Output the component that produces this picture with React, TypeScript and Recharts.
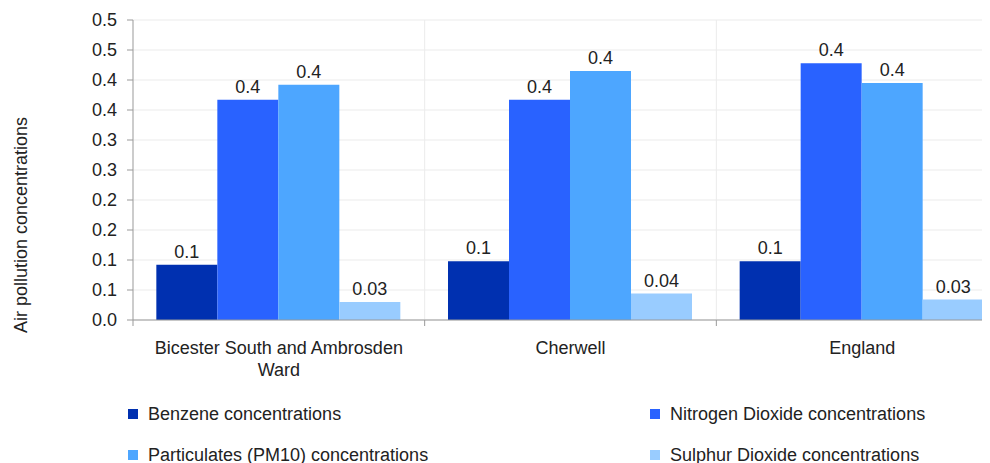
import React from 'react';
import { BarChart, Bar, XAxis, YAxis, CartesianGrid, LabelList, Text } from 'recharts';

const categories = ['Bicester South and Ambrosden Ward', 'Cherwell', 'England'];
const benzene = [0.092, 0.098, 0.098];
const nitrogenDioxide = [0.367, 0.367, 0.428];
const particulates = [0.392, 0.415, 0.395];
const sulphurDioxide = [0.03, 0.044, 0.034];
const yTicks = [0, 0.05, 0.1, 0.15, 0.2, 0.25, 0.3, 0.35, 0.4, 0.45, 0.5];

const seriesKeys = ['benzene', 'no2', 'pm10', 'so2'];
const seriesNames = [
  'Benzene concentrations',
  'Nitrogen Dioxide concentrations',
  'Particulates (PM10) concentrations',
  'Sulphur Dioxide concentrations',
];
const seriesColors = ['#0030b0', '#2962ff', '#4da6ff', '#99ccff'];
const seriesValues = [benzene, nitrogenDioxide, particulates, sulphurDioxide];

const data = categories.map((c, i) => {
  const row: any = { name: c };
  seriesKeys.forEach((k, j) => {
    row[k] = seriesValues[j][i];
  });
  return row;
});

const FONT = '"Liberation Sans", Arial, sans-serif';
const TEXT = '#222';
const AXIS = '#999';

const yFmt = (v: number) => (Math.round(v * 10 + 1e-9) / 10).toFixed(1);
const labelFmt = (v: any) => {
  const n = Number(v);
  return n < 0.05 ? n.toFixed(2) : n.toFixed(1);
};

const XTick = (props: any) => {
  const { x, y, payload, index } = props;
  const half = payload && payload.offset ? payload.offset : 145.8;
  const isLast = (payload?.index ?? index) === categories.length - 1;
  return (
    <g>
      <line x1={x - half} x2={x - half} y1={y} y2={y + 6} stroke={AXIS} />
      {isLast && <line x1={x + half} x2={x + half} y1={y} y2={y + 6} stroke={AXIS} />}
      <Text
        x={x}
        y={y + 21}
        width={2 * half - 20}
        textAnchor="middle"
        verticalAnchor="start"
        lineHeight={22}
        fill={TEXT}
        fontSize={18}
        fontFamily={FONT}
        style={{ fontSize: '18px', fontFamily: FONT }}
      >
        {payload.value}
      </Text>
    </g>
  );
};

const YLabel = () => (
  <text
    x={13}
    y={217}
    transform="rotate(-90, 13, 217)"
    textAnchor="middle"
    dominantBaseline="central"
    fill={TEXT}
    fontSize={18}
    fontFamily={FONT}
  >
    Air pollution concentrations
  </text>
);

export default function App() {
  return (
    <div
      style={{
        position: 'relative',
        width: 982,
        height: 463,
        fontFamily: FONT,
      }}
    >
      <style>{'html, body { overflow: hidden; }'}</style>
      <div style={{ position: 'absolute', left: 0, top: 0, width: 982, height: 455, overflow: 'hidden' }}>
        <BarChart
          width={1004}
          height={455}
          data={data}
          margin={{ top: 12, right: 4, left: 0, bottom: 0 }}
          barCategoryGap="8%"
          barGap={0}
        >
          <CartesianGrid
            stroke="#ebebeb"
            verticalCoordinatesGenerator={(p: any) =>
              p && p.offset
                ? [1, 2, 3].map((i) => p.offset.left + (p.offset.width * i) / 3)
                : []
            }
          />
          <XAxis
            dataKey="name"
            height={143}
            axisLine={{ stroke: AXIS }}
            tickLine={false}
            tickSize={0}
            tickMargin={0}
            interval={0}
            tick={<XTick />}
          />
          <YAxis
            width={125}
            domain={[0, 0.5]}
            ticks={yTicks}
            interval={0}
            tickFormatter={yFmt}
            axisLine={{ stroke: AXIS }}
            tickLine={{ stroke: AXIS }}
            tickSize={6}
            tickMargin={10}
            tick={{ fill: TEXT, fontSize: 18, fontFamily: FONT }}
            label={<YLabel />}
          />
          {seriesKeys.map((k, j) => (
            <Bar key={k} dataKey={k} name={seriesNames[j]} fill={seriesColors[j]} isAnimationActive={false}>
              <LabelList
                dataKey={k}
                position="top"
                offset={7}
                formatter={labelFmt}
                fill={TEXT}
                fontSize={18}
                fontFamily={FONT}
              />
            </Bar>
          ))}
        </BarChart>
      </div>
      {seriesNames.map((n, j) => {
        const col = j % 2;
        const row = Math.floor(j / 2);
        return (
          <div
            key={n}
            style={{
              position: 'absolute',
              left: col === 0 ? 120 : 642,
              top: 406 + row * 41 - 11,
              height: 22,
              display: 'flex',
              alignItems: 'center',
              whiteSpace: 'nowrap',
              fontSize: 18,
              color: TEXT,
            }}
          >
            <span
              style={{
                display: 'inline-block',
                width: 10,
                height: 10,
                background: seriesColors[j],
                marginRight: 10,
              }}
            />
            <span>{n}</span>
          </div>
        );
      })}
    </div>
  );
}
